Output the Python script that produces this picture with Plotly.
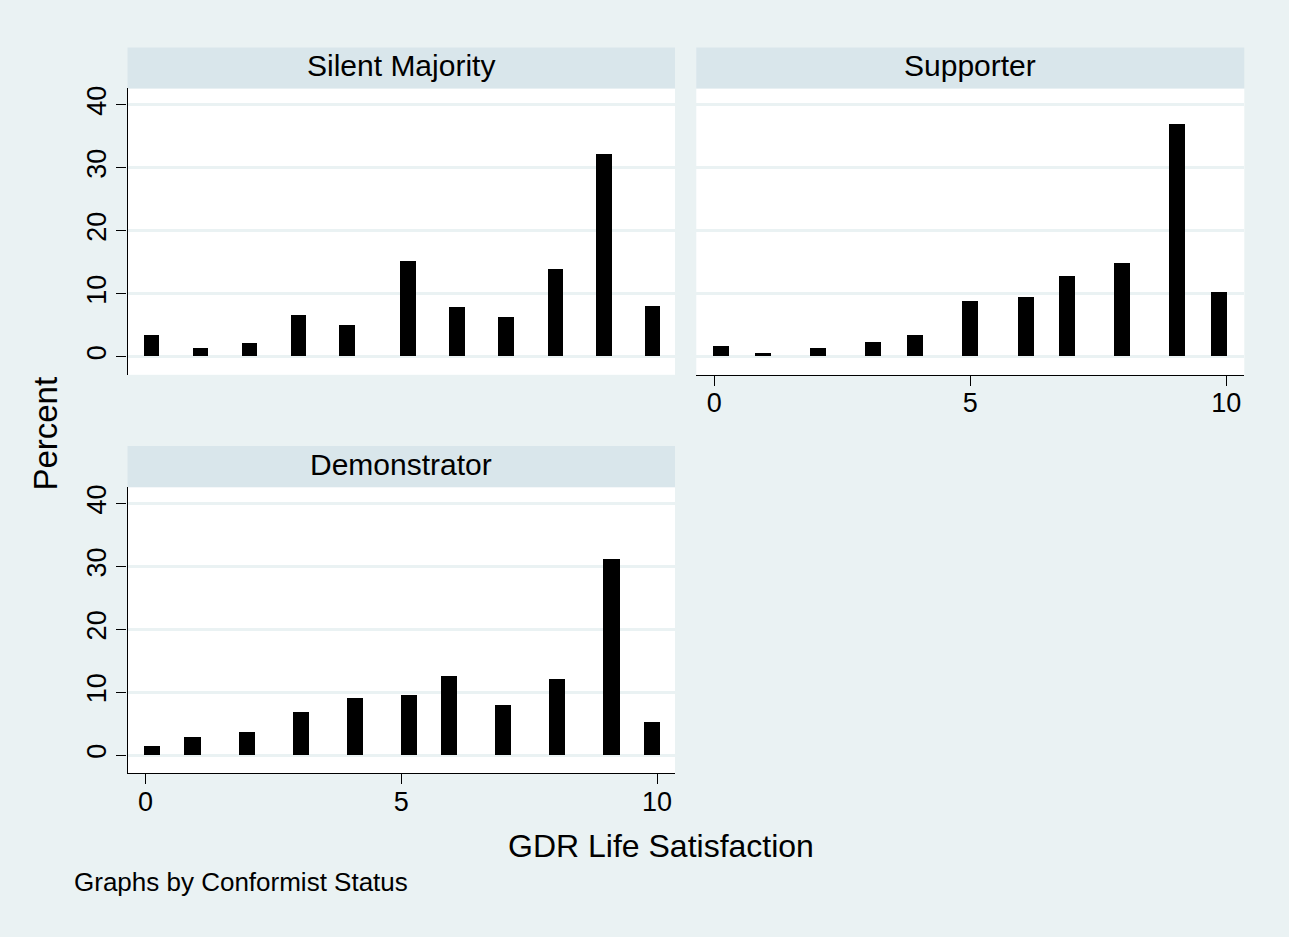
import plotly.graph_objects as go

# ---- data ----
panel_titles = ["Silent Majority", "Supporter", "Demonstrator"]

sm_x = [0.11, 1.07, 2.02, 2.98, 3.93, 5.12, 6.08, 7.04, 8.00, 8.95, 9.90]
sm_y = [3.4, 1.4, 2.1, 6.5, 5.0, 15.2, 7.8, 6.3, 13.9, 32.2, 8.0]

sup_x = [0.13, 0.95, 2.03, 3.11, 3.92, 5.00, 6.09, 6.89, 7.97, 9.05, 9.86]
sup_y = [1.6, 0.5, 1.3, 2.3, 3.4, 8.8, 9.4, 12.8, 14.8, 36.9, 10.2]

dem_x = [0.12, 0.91, 1.97, 3.03, 4.08, 5.14, 5.93, 6.98, 8.04, 9.10, 9.89]
dem_y = [1.5, 2.9, 3.6, 6.9, 9.0, 9.5, 12.5, 7.9, 12.1, 31.1, 5.3]

bar_widths = [0.30, 0.31, 0.315]

x_ticks = [0, 5, 10]
y_ticks = [0, 10, 20, 30, 40]

# ---- layout geometry ----
W, H = 1289, 937
BG = "#EAF2F3"
STRIP = "#D9E6EB"
FONT = "Liberation Sans, Arial, sans-serif"

def px_x(v):
    return v / W

def px_y(v):
    return 1 - v / H

left_dom = [px_x(127.5), px_x(675)]
right_dom = [px_x(696.3), px_x(1244.3)]
top_dom = [px_y(373), px_y(85.7)]
bot_dom = [px_y(772.7), px_y(485.7)]

fig = go.Figure()

series = [(sm_x, sm_y, "x", "y"), (sup_x, sup_y, "x2", "y2"), (dem_x, dem_y, "x3", "y3")]
for (xs, ys, xa, ya), w in zip(series, bar_widths):
    fig.add_trace(go.Bar(x=xs, y=ys, width=w, xaxis=xa, yaxis=ya,
                         marker=dict(color="black", line=dict(width=0)),
                         showlegend=False, hoverinfo="x+y"))

xr = [-0.35, 10.35]
yr = [-2.85, 42.6]
TICK_SIZE = 27

def xaxis(domain, anchor, show):
    return dict(domain=domain, anchor=anchor, range=xr, tickvals=x_ticks,
                showgrid=False, zeroline=False,
                showline=show, linecolor="black", linewidth=1.3,
                ticks="outside" if show else "", ticklen=10, tickwidth=1.3, tickcolor="black",
                ticklabelstandoff=-6,
                showticklabels=show, tickfont=dict(family=FONT, size=TICK_SIZE, color="black"))

def yaxis(domain, anchor, show):
    return dict(domain=domain, anchor=anchor, range=yr, tickvals=y_ticks,
                showgrid=True, gridcolor=BG, gridwidth=2.5, zeroline=False,
                showline=show, linecolor="black", linewidth=1.3,
                ticks="outside" if show else "", ticklen=10, tickwidth=1.3, tickcolor="black",
                showticklabels=show, tickangle=-90,
                tickfont=dict(family=FONT, size=TICK_SIZE, color="black"))

shapes = []
annotations = []
strips = [(127.5, 675, 44.7, 85.7, panel_titles[0]),
          (696.3, 1244.3, 44.7, 85.7, panel_titles[1]),
          (127.5, 675, 444.3, 485.7, panel_titles[2])]
for x0, x1, y0, y1, t in strips:
    shapes.append(dict(type="rect", xref="paper", yref="paper",
                       x0=px_x(x0), x1=px_x(x1), y0=px_y(y1), y1=px_y(y0),
                       fillcolor=STRIP, line=dict(width=0), layer="below"))
    annotations.append(dict(text=t, xref="paper", yref="paper",
                            x=px_x((x0 + x1) / 2), y=px_y((y0 + y1) / 2 - 2),
                            xanchor="center", yanchor="middle", showarrow=False,
                            font=dict(family=FONT, size=30, color="black")))

annotations.append(dict(text="Percent", xref="paper", yref="paper",
                        x=px_x(46), y=px_y(432), textangle=-90,
                        xanchor="center", yanchor="middle", showarrow=False,
                        font=dict(family=FONT, size=33, color="black")))
annotations.append(dict(text="GDR Life Satisfaction", xref="paper", yref="paper",
                        x=px_x(661), y=px_y(846),
                        xanchor="center", yanchor="middle", showarrow=False,
                        font=dict(family=FONT, size=32, color="black")))
annotations.append(dict(text="Graphs by Conformist Status", xref="paper", yref="paper",
                        x=px_x(72), y=px_y(882),
                        xanchor="left", yanchor="middle", showarrow=False,
                        font=dict(family=FONT, size=26, color="black")))

fig.update_layout(
    width=W, height=H,
    margin=dict(l=0, r=0, t=0, b=0),
    paper_bgcolor=BG, plot_bgcolor="white",
    bargap=0,
    xaxis=xaxis(left_dom, "y", False),
    yaxis=yaxis(top_dom, "x", True),
    xaxis2=xaxis(right_dom, "y2", True),
    yaxis2=yaxis(top_dom, "x2", False),
    xaxis3=xaxis(left_dom, "y3", True),
    yaxis3=yaxis(bot_dom, "x3", True),
    shapes=shapes, annotations=annotations,
)

fig.write_html("out.html")
